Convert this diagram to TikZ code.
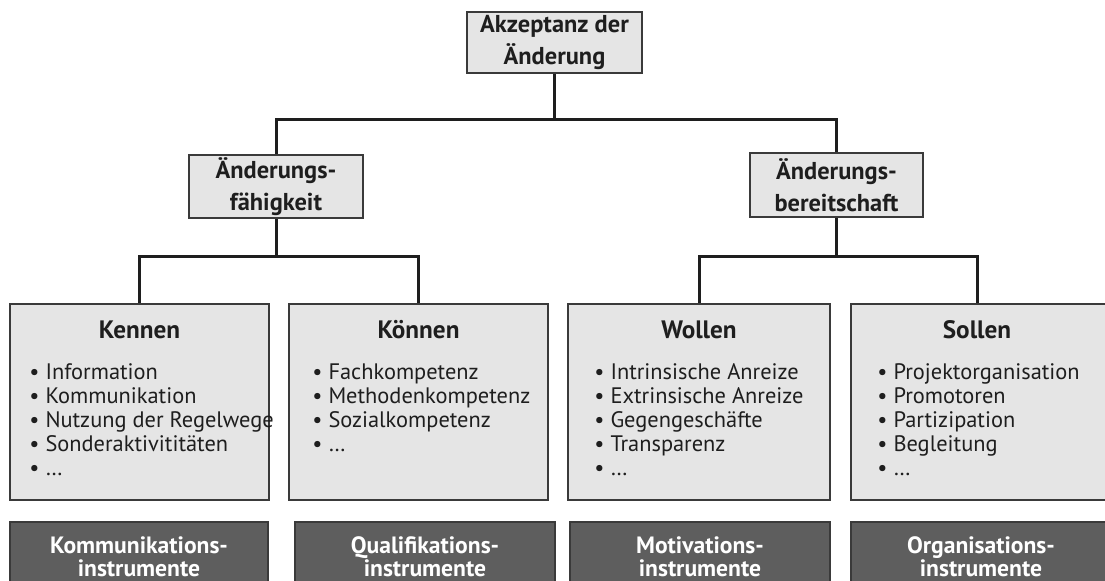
\documentclass[tikz,border=0pt]{standalone}
\usepackage{fontspec}
\setmainfont{PT Sans}
\definecolor{lightbox}{HTML}{E5E5E5}
\definecolor{darkbox}{HTML}{5E5E5E}
\definecolor{edgec}{HTML}{3A3A3A}
\definecolor{txt}{HTML}{1E1E1E}
\begin{document}
\begin{tikzpicture}[x=0.5pt,y=-0.5pt,
  lbox/.style={draw=edgec,fill=lightbox,line width=1pt,inner sep=0pt,align=center,text=txt,
    font=\bfseries\fontsize{12.2}{15.8}\selectfont},
  bigbox/.style={draw=edgec,fill=lightbox,line width=1pt,inner sep=0pt},
  dbox/.style={draw=edgec,fill=darkbox,line width=1pt,inner sep=0pt,align=center,text=white,
    font=\bfseries\fontsize{11.8}{11.4}\selectfont},
  head/.style={inner sep=0pt,text=txt,font=\bfseries\fontsize{12.6}{14}\selectfont},
  blist/.style={inner sep=0pt,align=left,anchor=north west,text=txt,font=\fontsize{11.2}{12}\selectfont},
  conn/.style={draw=txt,line width=1.5pt,line join=miter}]
\useasboundingbox (0,0) rectangle (1105,581);
\clip (0,0) rectangle (1105,581);

% level 0 and 1
\node[lbox,minimum width=87.5pt,minimum height=30.5pt] (top) at (554.5,42.5) {Akzeptanz der\\Änderung};
\node[lbox,minimum width=87pt,minimum height=31.5pt] (fae) at (276,186.5) {Änderungs-\\fähigkeit};
\node[lbox,minimum width=86.5pt,minimum height=32pt] (ber) at (836.5,185) {Änderungs-\\bereitschaft};

% level 2 boxes
\node[bigbox,minimum width=129.5pt,minimum height=98pt] (kennen) at (139.5,402) {};
\node[bigbox,minimum width=129.5pt,minimum height=98pt] (koennen) at (418.5,402) {};
\node[bigbox,minimum width=131pt,minimum height=98pt] (wollen) at (699,402) {};
\node[bigbox,minimum width=130pt,minimum height=98pt] (sollen) at (981,402) {};

\node[head] (kennenH) at (139.5,330) {Kennen};
\node[head] (koennenH) at (418.5,330) {Können};
\node[head] (wollenH) at (699,330) {Wollen};
\node[head] (sollenH) at (977,330) {Sollen};

\node[blist] (kennenL) at (29,363) {\textbullet\ Information\\\textbullet\ Kommunikation\\\textbullet\ Nutzung der Regelwege\\\textbullet\ Sonderaktivititäten\\\textbullet\ \dots};
\node[blist] (koennenL) at (312,363) {\textbullet\ Fachkompetenz\\\textbullet\ Methodenkompetenz\\\textbullet\ Sozialkompetenz\\\textbullet\ \dots};
\node[blist] (wollenL) at (594,363) {\textbullet\ Intrinsische Anreize\\\textbullet\ Extrinsische Anreize\\\textbullet\ Gegengeschäfte\\\textbullet\ Transparenz\\\textbullet\ \dots};
\node[blist] (sollenL) at (877,363) {\textbullet\ Projektorganisation\\\textbullet\ Promotoren\\\textbullet\ Partizipation\\\textbullet\ Begleitung\\\textbullet\ \dots};

% instrument boxes
\node[dbox,minimum width=129pt,minimum height=35pt] (kom) at (139,557) {Kommunikations-\\instrumente};
\node[dbox,minimum width=130pt,minimum height=35pt] (qual) at (425,557) {Qualifikations-\\instrumente};
\node[dbox,minimum width=130pt,minimum height=35pt] (mot) at (700,557) {Motivations-\\instrumente};
\node[dbox,minimum width=130pt,minimum height=35pt] (org) at (981,557) {Organisations-\\instrumente};

% connectors
\coordinate (j0) at (555,120);
\coordinate (jl) at (275,257);
\coordinate (jr) at (837,257);
\coordinate (sc) at (977,257);
\draw[conn] (top.south) -- (top.south |- j0);
\draw[conn] (fae.north) |- (ber.north |- j0) -- (ber.north);
\draw[conn] (fae.south) -- (fae.south |- jl);
\draw[conn] (kennen.north) |- (koennen.north |- jl) -- (koennen.north);
\draw[conn] (ber.south) -- (ber.south |- jr);
\draw[conn] (wollen.north) |- (sc) -- (sc |- sollen.north);
\end{tikzpicture}
\end{document}
